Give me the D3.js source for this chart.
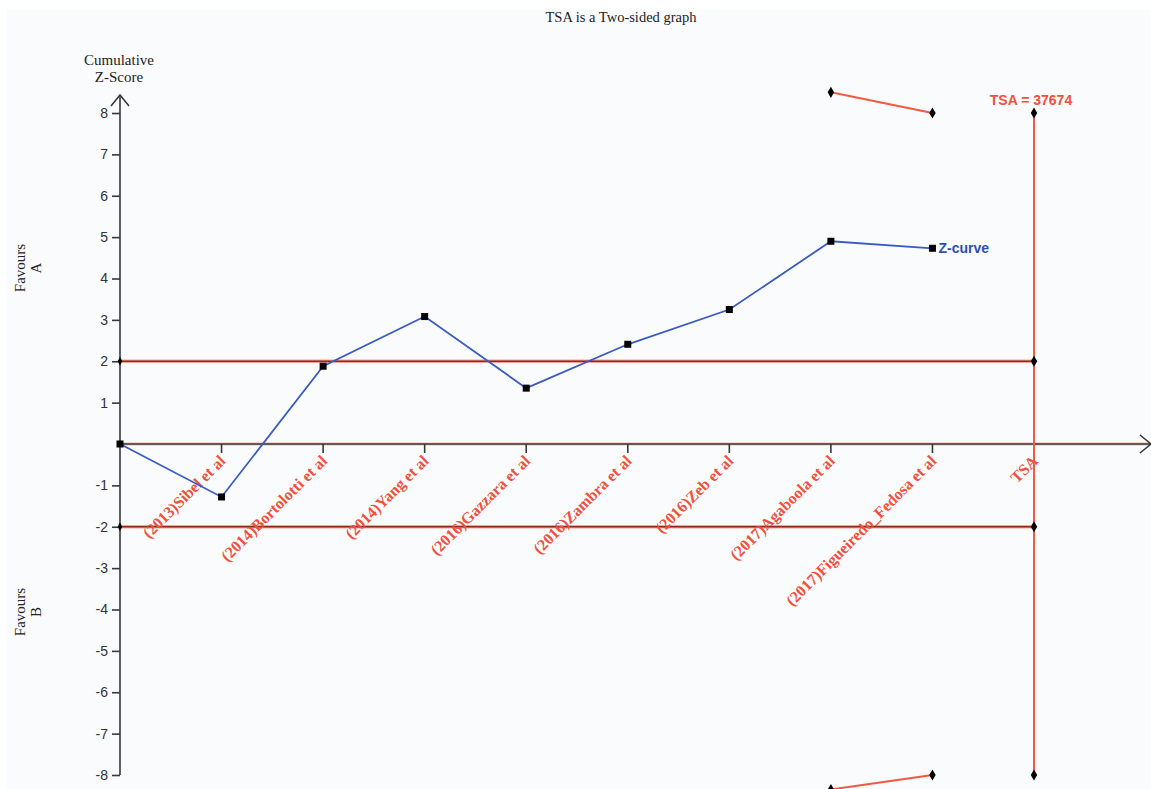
<!DOCTYPE html>
<html>
<head>
<meta charset="utf-8">
<script src="https://cdn.jsdelivr.net/npm/d3@7"></script>
<style>
  html, body { margin: 0; padding: 0; background: #ffffff; }
  svg { display: block; }
</style>
</head>
<body>
<svg id="chart" width="1151" height="789"></svg>
<script>
// Studies in cumulative order, plus the final TSA column
const studies = [
  "(2013)Sibel et al",
  "(2014)Bortolotti et al",
  "(2014)Yang et al",
  "(2016)Gazzara et al",
  "(2016)Zambra et al",
  "(2016)Zeb et al",
  "(2017)Agaboola et al",
  "(2017)Figueiredo_Fedosa et al",
  "TSA"
];
// Cumulative Z-score after each study (index 0 = origin)
const zCurve = [0, -1.28, 1.88, 3.08, 1.35, 2.41, 3.25, 4.9, 4.73];
// Monitoring boundaries (position index, value)
const upperBoundary = [[7, 8.5], [8, 8.0]];
const lowerBoundary = [[7, -8.35], [8, -8.0]];
const yTicks = [8, 7, 6, 5, 4, 3, 2, 1, -1, -2, -3, -4, -5, -6, -7, -8];
const conventional = [2, -2];
const tsaValue = 37674;
const tsaMarks = [8, 2, -2, -8];

const svg = d3.select("#chart");
const W = 1151, H = 789;

svg.append("rect").attr("x", 7).attr("y", 10).attr("width", W - 7).attr("height", H - 10)
  .attr("fill", "#fafbfd");

const x = d3.scaleLinear().domain([0, 9]).range([120, 1034]);
const y = d3.scaleLinear().domain([-8, 8]).range([775, 113]);

const axisCol = "#333a3a";

// Title
svg.append("text").attr("x", 621).attr("y", 22).attr("text-anchor", "middle")
  .attr("font-family", "Liberation Serif, serif").attr("font-size", 14.5).attr("fill", "#222")
  .text("TSA is a Two-sided graph");

// Y-axis title
const yt = svg.append("text").attr("text-anchor", "middle")
  .attr("font-family", "Liberation Serif, serif").attr("font-size", 15).attr("fill", "#222");
yt.append("tspan").attr("x", 119).attr("y", 65).text("Cumulative");
yt.append("tspan").attr("x", 119).attr("y", 82).text("Z-Score");

// Favours labels
function favours(cy, letter) {
  const g = svg.append("text").attr("transform", `translate(25,${cy}) rotate(-90)`)
    .attr("text-anchor", "middle").attr("font-family", "Liberation Serif, serif")
    .attr("font-size", 15).attr("fill", "#222");
  g.append("tspan").attr("x", 0).attr("y", 0).text("Favours");
  g.append("tspan").attr("x", 0).attr("y", 16).text(letter);
}
favours(268, "A");
favours(612, "B");

// Conventional ±2 lines
conventional.forEach(v => {
  svg.append("line").attr("x1", x(0)).attr("x2", x(9)).attr("y1", y(v)).attr("y2", y(v))
    .attr("stroke", "#f3a393").attr("stroke-width", 3.5);
  svg.append("line").attr("x1", x(0)).attr("x2", x(9)).attr("y1", y(v)).attr("y2", y(v))
    .attr("stroke", "#8e2b22").attr("stroke-width", 1.3);
});

// X axis with arrow
svg.append("line").attr("x1", x(0)).attr("x2", 1150).attr("y1", y(0)).attr("y2", y(0))
  .attr("stroke", "#f3b3a6").attr("stroke-width", 3);
svg.append("line").attr("x1", x(0)).attr("x2", 1150).attr("y1", y(0)).attr("y2", y(0))
  .attr("stroke", axisCol).attr("stroke-width", 1.6);
svg.append("path").attr("d", `M1140,${y(0) - 9} L1151,${y(0)} L1140,${y(0) + 9}`)
  .attr("fill", "none").attr("stroke", axisCol).attr("stroke-width", 1.6);

// Study ticks
d3.range(1, 9).forEach(i => {
  svg.append("line").attr("x1", x(i)).attr("x2", x(i)).attr("y1", y(0)).attr("y2", y(0) + 9)
    .attr("stroke", axisCol).attr("stroke-width", 1.6);
});

// Y axis with arrow
svg.append("line").attr("x1", x(0)).attr("x2", x(0)).attr("y1", y(-8)).attr("y2", 95)
  .attr("stroke", axisCol).attr("stroke-width", 1.6);
svg.append("path").attr("d", `M${x(0) - 9},106 L${x(0)},95 L${x(0) + 9},106`)
  .attr("fill", "none").attr("stroke", axisCol).attr("stroke-width", 1.6);

const yAxis = d3.axisLeft(y).tickValues(yTicks).tickSize(8).tickPadding(4)
  .tickFormat(d => String(d));
const yg = svg.append("g").attr("transform", `translate(${x(0)},0)`).call(yAxis);
yg.select(".domain").remove();
yg.selectAll(".tick line").attr("stroke", axisCol).attr("stroke-width", 1.6);
yg.selectAll(".tick text").attr("fill", "#333").attr("font-size", 14)
  .attr("font-family", "Liberation Sans, Arial, sans-serif");

// Study labels
studies.forEach((s, i) => {
  svg.append("text")
    .attr("transform", `translate(${x(i + 1) + 1},${y(0) + 14}) rotate(-45)`)
    .attr("text-anchor", "end").attr("dy", "0.35em")
    .attr("font-family", "Liberation Serif, serif").attr("font-size", 16)
    .attr("font-weight", "bold")
    .attr("fill", "#f0503c").text(s);
});

// TSA vertical line
svg.append("line").attr("x1", x(9)).attr("x2", x(9)).attr("y1", y(8)).attr("y2", y(-8))
  .attr("stroke", "#f05a44").attr("stroke-width", 2);

// Monitoring boundaries
const bLine = d3.line().x(d => x(d[0])).y(d => y(d[1]));
[upperBoundary, lowerBoundary].forEach(b => {
  svg.append("path").attr("d", bLine(b)).attr("fill", "none")
    .attr("stroke", "#f05a44").attr("stroke-width", 2);
});

const diamond = d3.symbol().type(d3.symbolDiamond).size(36);
const diamonds = [...upperBoundary, ...lowerBoundary, ...tsaMarks.map(v => [9, v])];
diamonds.forEach(d => {
  svg.append("path").attr("d", diamond)
    .attr("transform", `translate(${x(d[0])},${y(d[1])})`).attr("fill", "#000");
});
conventional.forEach(v => {
  svg.append("path").attr("d", d3.symbol().type(d3.symbolDiamond).size(20))
    .attr("transform", `translate(${x(0)},${y(v)})`).attr("fill", "#000");
});

// TSA label
svg.append("text").attr("x", x(9) - 3).attr("y", 105).attr("text-anchor", "middle")
  .attr("font-family", "Liberation Sans, Arial, sans-serif").attr("font-size", 14)
  .attr("font-weight", "bold").attr("fill", "#f0503c").text("TSA = " + tsaValue);

// Z-curve
const zLine = d3.line().x((d, i) => x(i)).y(d => y(d));
svg.append("path").attr("d", zLine(zCurve)).attr("fill", "none")
  .attr("stroke", "#3a5cc0").attr("stroke-width", 1.8);
svg.selectAll(".zpt").data(zCurve).enter().append("rect")
  .attr("x", (d, i) => x(i) - 3.5).attr("y", d => y(d) - 3.5)
  .attr("width", 7).attr("height", 7).attr("fill", "#000");

svg.append("text").attr("x", x(8) + 6).attr("y", y(zCurve[8]) + 5)
  .attr("font-family", "Liberation Sans, Arial, sans-serif").attr("font-size", 14)
  .attr("font-weight", "bold").attr("fill", "#2e4fb0").text("Z-curve");
</script>
</body>
</html>
